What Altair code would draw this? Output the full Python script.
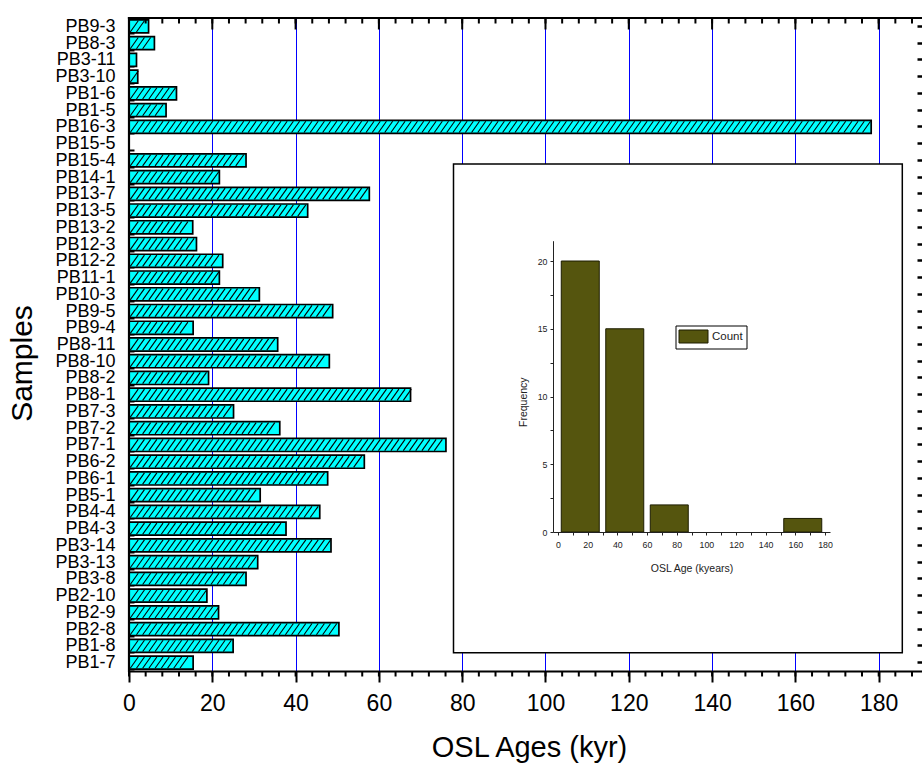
import altair as alt
import pandas as pd
import numpy as np

# ---------------- data ----------------
samples = ["PB9-3", "PB8-3", "PB3-11", "PB3-10", "PB1-6", "PB1-5", "PB16-3", "PB15-5",
           "PB15-4", "PB14-1", "PB13-7", "PB13-5", "PB13-2", "PB12-3", "PB12-2", "PB11-1",
           "PB10-3", "PB9-5", "PB9-4", "PB8-11", "PB8-10", "PB8-2", "PB8-1", "PB7-3",
           "PB7-2", "PB7-1", "PB6-2", "PB6-1", "PB5-1", "PB4-4", "PB4-3", "PB3-14",
           "PB3-13", "PB3-8", "PB2-10", "PB2-9", "PB2-8", "PB1-8", "PB1-7"]
ages = [4.7, 6.1, 1.8, 2.1, 11.4, 8.9, 178.2, None,
        28.1, 21.7, 57.7, 42.9, 15.3, 16.2, 22.5, 21.7,
        31.3, 48.9, 15.4, 35.7, 48.1, 19.1, 67.6, 25.1,
        36.2, 76.1, 56.5, 47.7, 31.5, 45.8, 37.7, 48.5,
        30.9, 28.1, 18.7, 21.5, 50.4, 25.0, 15.4]

x_major = [0, 20, 40, 60, 80, 100, 120, 140, 160, 180]
x_minor = list(range(0, 190, 4))

# inset histogram
bin_start = [0, 30, 60, 150]
bin_end = [30, 60, 90, 180]
counts = [20, 15, 2, 1]
inset_xticks = list(range(0, 181, 10))
inset_yticks = [0, 2.5, 5, 7.5, 10, 12.5, 15, 17.5, 20]
legend_labels = ["Count"]

# ---------------- layout / style ----------------
FONT = "Liberation Sans, Arial, sans-serif"
W, H = 793, 653
XMAX = 190.4

df = pd.DataFrame({"sample": samples, "age": ages})

# hatch segments ("///") derived from each bar's length
STEP, RUN = 1.49, 1.92
hrows = []
for s, a in zip(samples, ages):
    if a is None:
        continue
    x0 = 0.3
    while x0 + RUN <= a + 0.2:
        hrows.append({"sample": s, "x0": x0, "x1": x0 + RUN})
        x0 += STEP
hatch_df = pd.DataFrame(hrows)

one = pd.DataFrame({"k": [0]})

xscale = alt.Scale(domain=[0, XMAX], nice=False, zero=False)
yscale = alt.Scale(domain=samples, paddingInner=0.22, paddingOuter=0.11)

bars = alt.Chart(df).mark_bar(fill="#00ffff", stroke="black", strokeWidth=1.7).encode(
    x=alt.X("age:Q", scale=xscale,
            axis=alt.Axis(orient="bottom", values=x_major, grid=True, gridColor="#0000ff",
                          gridWidth=1, gridOpacity=1, domainColor="black", domainWidth=2,
                          tickColor="black", tickWidth=2, tickSize=11,
                          labelFont=FONT, labelFontSize=23, labelColor="black",
                          labelPadding=10, labelFlush=False, labelOverlap=False,
                          title="OSL Ages (kyr)", titleFont=FONT, titleFontSize=29,
                          titleFontWeight="normal", titleColor="black",
                          titleX=400, titleY=85, titleBaseline="alphabetic")),
    y=alt.Y("sample:N", scale=yscale, sort=samples,
            axis=alt.Axis(orient="left", offset=-5, domain=False, tickBand="extent",
                          tickSize=5, tickWidth=2, tickColor="black",
                          labelFont=FONT, labelFontSize=18, labelColor="black",
                          labelPadding=14, title="Samples", titleFont=FONT,
                          titleFontSize=30, titleFontWeight="normal", titleColor="black",
                          titleX=-102.5, titleY=345, titleBaseline="alphabetic")),
)

hatch = alt.Chart(hatch_df).mark_rule(color="black", strokeWidth=1.1).encode(
    x=alt.X("x0:Q", scale=xscale, axis=None),
    x2="x1:Q",
    y=alt.Y("sample:N", scale=yscale, sort=samples, axis=None, bandPosition=0.93),
    y2=alt.Y2("sample", bandPosition=0.07),
)

minor_df = pd.DataFrame({"t": x_minor})
major_df = pd.DataFrame({"t": x_major})

top_minor = alt.Chart(minor_df).mark_rule(color="black", strokeWidth=2).encode(
    x=alt.X("t:Q", scale=xscale, axis=None), y=alt.value(0), y2=alt.value(5.5))
top_major = alt.Chart(major_df).mark_rule(color="black", strokeWidth=2).encode(
    x=alt.X("t:Q", scale=xscale, axis=None), y=alt.value(0), y2=alt.value(11.5))
bot_minor = alt.Chart(minor_df).mark_rule(color="black", strokeWidth=2).encode(
    x=alt.X("t:Q", scale=xscale, axis=None), y=alt.value(H), y2=alt.value(H + 5.5))

left_frame = alt.Chart(one).mark_rule(color="black", strokeWidth=2.2).encode(
    x=alt.value(0), y=alt.value(-1.1), y2=alt.value(H + 1))
top_frame = alt.Chart(one).mark_rule(color="black", strokeWidth=2.2).encode(
    y=alt.value(0), x=alt.value(-1.1), x2=alt.value(W))

right_ticks = alt.Chart(df).mark_point(opacity=0).encode(
    x=alt.value(0),
    y=alt.Y("sample:N", scale=yscale, sort=samples,
            axis=alt.Axis(orient="right", offset=-5, domain=False, labels=False,
                          tickSize=5, tickWidth=2.5, tickColor="black", title=None,
                          grid=False)),
)

main = alt.layer(bars, hatch, top_minor, top_major, bot_minor, left_frame, top_frame,
                 right_ticks).resolve_axis(x="independent", y="independent")

# ---------------- inset ----------------
INK = "#222222"
inset_box = alt.Chart(one).mark_rect(fill="white", stroke="black", strokeWidth=1.5).encode(
    x=alt.value(324.5), x2=alt.value(773.3), y=alt.value(146), y2=alt.value(634.7))

hist_df = pd.DataFrame({"lo": bin_start, "hi": bin_end, "count": counts})
inset_x = alt.Scale(domain=[0, 180], range=[424, 701], nice=False, zero=False)
inset_y = alt.Scale(domain=[0, 21.5], range=[514, 222.7], nice=False)

hbars = alt.Chart(hist_df).transform_calculate(
    mid="(datum.lo + datum.hi) / 2"
).mark_bar(size=38, fill="#55550e", stroke="#1c1c00", strokeWidth=1).encode(
    x=alt.X("mid:Q", scale=inset_x,
            axis=alt.Axis(orient="bottom", offset=-139, values=inset_xticks,
                          labelExpr="datum.value % 20 === 0 ? datum.label : ''",
                          tickSize=3, tickWidth=1, tickColor=INK, domainColor=INK,
                          domainWidth=1, labelFont=FONT, labelFontSize=8.8,
                          labelColor=INK, labelPadding=5, labelFlush=False,
                          labelOverlap=False, grid=False, title="OSL Age (kyears)",
                          titleFont=FONT, titleFontSize=10.5, titleFontWeight="normal",
                          titleColor=INK, titleY=39, titleBaseline="alphabetic",
                          zindex=1)),
    y=alt.Y("count:Q", scale=inset_y,
            axis=alt.Axis(orient="left", offset=-424, values=inset_yticks,
                          labelExpr="datum.value % 5 === 0 ? datum.label : ''",
                          tickSize=3, tickWidth=1, tickColor=INK, domainColor=INK,
                          domainWidth=1, labelFont=FONT, labelFontSize=8.8,
                          labelColor=INK, labelPadding=3, labelOverlap=False,
                          labelFlush=False, grid=False, title="Frequency",
                          titleFont=FONT, titleFontSize=10.5, titleFontWeight="normal",
                          titleColor=INK, titleX=-27, titleY=383.7,
                          titleBaseline="alphabetic", zindex=1)),
    y2=alt.datum(0),
)

leg_df = pd.DataFrame({"label": legend_labels})
leg_box = alt.Chart(leg_df).mark_rect(fill="white", stroke="black", strokeWidth=1).encode(
    x=alt.value(547), x2=alt.value(618), y=alt.value(308), y2=alt.value(331))
leg_swatch = alt.Chart(leg_df).mark_rect(fill="#55550e", stroke="#1c1c00", strokeWidth=1).encode(
    x=alt.value(550), x2=alt.value(579), y=alt.value(312), y2=alt.value(325))
leg_text = alt.Chart(leg_df).mark_text(align="left", baseline="middle", font=FONT,
                                       fontSize=11.5, color=INK).encode(
    x=alt.value(583), y=alt.value(319), text="label:N")

inset = alt.layer(inset_box, hbars, leg_box, leg_swatch, leg_text)

chart = alt.layer(main, inset).resolve_scale(
    x="independent", y="independent"
).properties(
    width=W, height=H,
    padding={"left": 129, "top": 18, "right": 0, "bottom": 92},
    autosize=alt.AutoSizeParams(type="none"),
).configure_view(stroke=None)

chart.save("out.html", embed_options={"renderer": "svg", "actions": False})
